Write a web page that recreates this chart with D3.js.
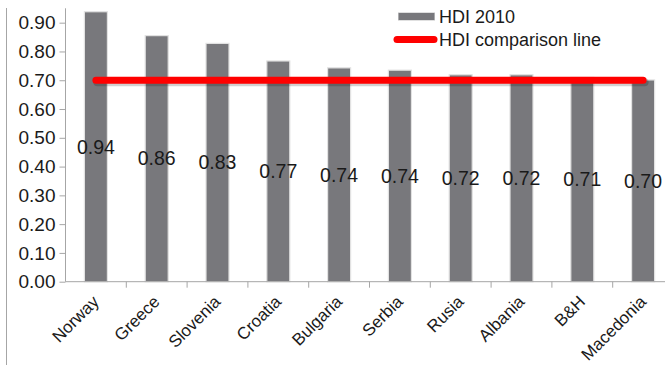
<!DOCTYPE html>
<html><head><meta charset="utf-8">
<script src="https://cdn.jsdelivr.net/npm/d3@7"></script>
<style>body{margin:0;background:#fff}svg{display:block;font-family:"Liberation Sans",Arial,sans-serif}</style>
</head><body><div id="c"></div>
<script>
const categories = ["Norway","Greece","Slovenia","Croatia","Bulgaria","Serbia","Rusia","Albania","B&H","Macedonia"];
const hdi2010 = [0.938,0.855,0.828,0.767,0.743,0.735,0.719,0.719,0.710,0.701];
const valueLabels = ["0.94","0.86","0.83","0.77","0.74","0.74","0.72","0.72","0.71","0.70"];
const comparisonValue = 0.70;
const yTicks = [0,0.1,0.2,0.3,0.4,0.5,0.6,0.7,0.8,0.9];
const seriesNames = ["HDI 2010","HDI comparison line"];

const W=665,H=371;
const svg=d3.select("#c").append("svg").attr("width",W).attr("height",H);
const x0=65.5, y0=281.7;
const x=d3.scaleBand().domain(categories).range([x0,x0+608]).paddingInner(0).paddingOuter(0);
const y=d3.scaleLinear().domain([0,0.95]).range([y0,y0-0.95*287.8]);
const cx=d=>x(d)+x.bandwidth()/2;

// left border line
svg.append("line").attr("x1",6.5).attr("x2",6.5).attr("y1",8).attr("y2",365).attr("stroke","#a6a6a6").attr("stroke-width",1);

// bars
const bw=23;
svg.append("g").selectAll("rect").data(hdi2010).join("rect")
 .attr("x",(d,i)=>cx(categories[i])-bw/2)
 .attr("width",bw)
 .attr("y",d=>y(d)).attr("height",d=>y0-y(d))
 .attr("fill","#78787c").attr("stroke","#e2e2e2").attr("stroke-width",1.2);

// y axis
const ya=svg.append("g").attr("transform",`translate(${x0},0)`)
 .call(d3.axisLeft(y).tickValues(yTicks).tickFormat(d3.format(".2f")).tickSize(6).tickPadding(4));
ya.select(".domain").attr("d",`M0,${y(0.95)}V${y0}`).attr("stroke","#a6a6a6");
ya.selectAll(".tick line").attr("stroke","#a6a6a6");
ya.selectAll(".tick text").attr("font-size",19).attr("fill","#1a1a1a").attr("font-family","Liberation Sans, Arial, sans-serif");

// x axis
const xa=svg.append("g").attr("transform",`translate(0,${y0})`);
xa.append("line").attr("x1",x0).attr("x2",W).attr("stroke","#a6a6a6");
xa.selectAll("line.t").data(categories.slice(1)).join("line").attr("class","t")
 .attr("x1",d=>x(d)).attr("x2",d=>x(d)).attr("y1",0).attr("y2",6).attr("stroke","#a6a6a6");
xa.selectAll("text").data(categories).join("text")
 .attr("transform",d=>`translate(${cx(d)+4},${21}) rotate(-45)`)
 .attr("text-anchor","end").attr("font-size",17).attr("fill","#1a1a1a").text(d=>d);

// comparison line with soft shadow
const xs=cx(categories[0]), xe=cx(categories[categories.length-1]), yc=y(comparisonValue);
svg.append("line").attr("x1",xs+1.5).attr("x2",xe+1.5).attr("y1",yc+2).attr("y2",yc+2)
 .attr("stroke","#000").attr("stroke-opacity",0.18).attr("stroke-width",8).attr("stroke-linecap","round");
svg.append("line").attr("x1",xs).attr("x2",xe).attr("y1",yc).attr("y2",yc)
 .attr("stroke","#ff0000").attr("stroke-width",7).attr("stroke-linecap","round");

// value labels
svg.append("g").selectAll("text").data(hdi2010).join("text")
 .attr("x",(d,i)=>cx(categories[i])).attr("y",d=>(y(d)+y0)/2).attr("dy","0.35em")
 .attr("text-anchor","middle").attr("font-size",19.5).attr("fill","#1a1a1a")
 .text((d,i)=>valueLabels[i]);

// legend
const lg=svg.append("g");
lg.append("line").attr("x1",398).attr("x2",435).attr("y1",16.5).attr("y2",16.5).attr("stroke","#e0e0e0").attr("stroke-width",9);
lg.append("line").attr("x1",398.5).attr("x2",434.5).attr("y1",16.5).attr("y2",16.5).attr("stroke","#78787c").attr("stroke-width",7);
lg.append("text").attr("x",439).attr("y",23).attr("font-size",18).attr("fill","#1a1a1a").text(seriesNames[0]);
lg.append("line").attr("x1",397).attr("x2",434).attr("y1",39.5).attr("y2",39.5).attr("stroke","#ff0000").attr("stroke-width",7).attr("stroke-linecap","round");
lg.append("text").attr("x",439).attr("y",46).attr("font-size",18).attr("fill","#1a1a1a").text(seriesNames[1]);
</script></body></html>
